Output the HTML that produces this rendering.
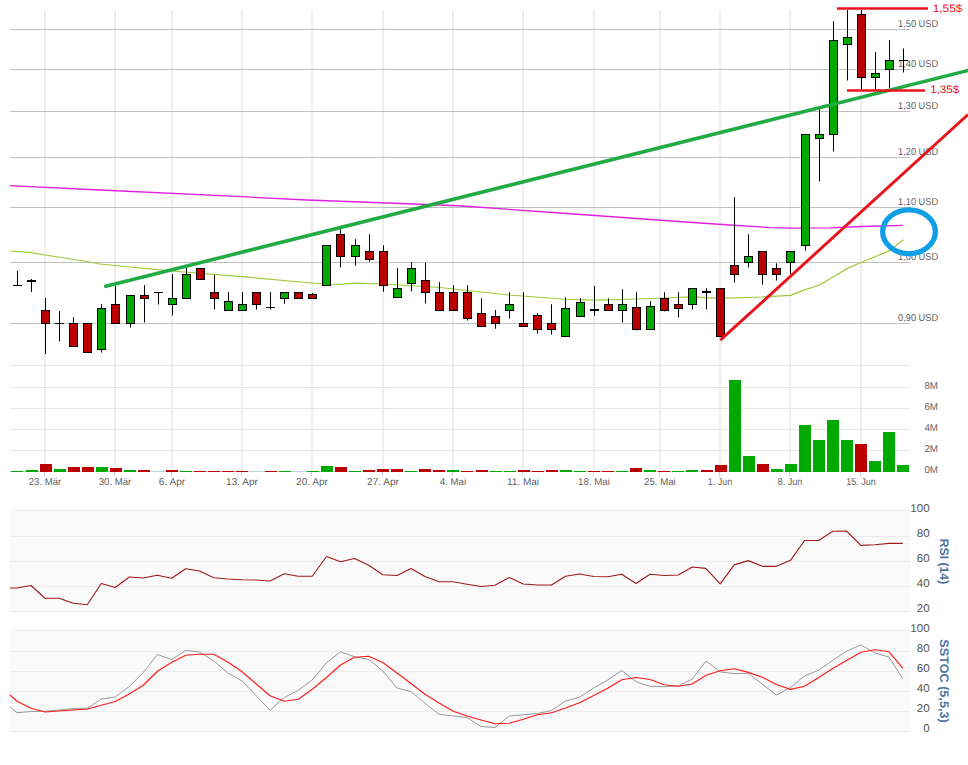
<!DOCTYPE html>
<html><head><meta charset="utf-8"><title>Chart</title>
<style>html,body{margin:0;padding:0;background:#fff;}body{width:968px;height:765px;position:relative;overflow:hidden;font-family:"Liberation Sans",sans-serif;}</style></head>
<body>
<svg width="968" height="765" viewBox="0 0 968 765" style="position:absolute;left:0;top:0;font-family:'Liberation Sans',sans-serif;text-rendering:geometricPrecision">
<rect width="968" height="765" fill="#fff"/>
<rect x="10" y="510" width="900" height="101.5" fill="#fafafa"/>
<rect x="10" y="630" width="900" height="101.5" fill="#fafafa"/>
<line x1="45.1" y1="10" x2="45.1" y2="471" stroke="#eeeeee" stroke-width="2"/>
<line x1="44.5" y1="472" x2="44.5" y2="476" stroke="#c0d0e0" stroke-width="1"/>
<line x1="115.1" y1="10" x2="115.1" y2="471" stroke="#eeeeee" stroke-width="2"/>
<line x1="114.5" y1="472" x2="114.5" y2="476" stroke="#c0d0e0" stroke-width="1"/>
<line x1="172.1" y1="10" x2="172.1" y2="471" stroke="#eeeeee" stroke-width="2"/>
<line x1="171.5" y1="472" x2="171.5" y2="476" stroke="#c0d0e0" stroke-width="1"/>
<line x1="242.1" y1="10" x2="242.1" y2="471" stroke="#eeeeee" stroke-width="2"/>
<line x1="241.5" y1="472" x2="241.5" y2="476" stroke="#c0d0e0" stroke-width="1"/>
<line x1="312.1" y1="10" x2="312.1" y2="471" stroke="#eeeeee" stroke-width="2"/>
<line x1="311.5" y1="472" x2="311.5" y2="476" stroke="#c0d0e0" stroke-width="1"/>
<line x1="383.1" y1="10" x2="383.1" y2="471" stroke="#eeeeee" stroke-width="2"/>
<line x1="382.5" y1="472" x2="382.5" y2="476" stroke="#c0d0e0" stroke-width="1"/>
<line x1="453.1" y1="10" x2="453.1" y2="471" stroke="#eeeeee" stroke-width="2"/>
<line x1="452.5" y1="472" x2="452.5" y2="476" stroke="#c0d0e0" stroke-width="1"/>
<line x1="523.1" y1="10" x2="523.1" y2="471" stroke="#eeeeee" stroke-width="2"/>
<line x1="522.5" y1="472" x2="522.5" y2="476" stroke="#c0d0e0" stroke-width="1"/>
<line x1="594.1" y1="10" x2="594.1" y2="471" stroke="#eeeeee" stroke-width="2"/>
<line x1="593.5" y1="472" x2="593.5" y2="476" stroke="#c0d0e0" stroke-width="1"/>
<line x1="660.0" y1="10" x2="660.0" y2="471" stroke="#eeeeee" stroke-width="2"/>
<line x1="659.4" y1="472" x2="659.4" y2="476" stroke="#c0d0e0" stroke-width="1"/>
<line x1="720.1" y1="10" x2="720.1" y2="471" stroke="#eeeeee" stroke-width="2"/>
<line x1="719.5" y1="472" x2="719.5" y2="476" stroke="#c0d0e0" stroke-width="1"/>
<line x1="790.1" y1="10" x2="790.1" y2="471" stroke="#eeeeee" stroke-width="2"/>
<line x1="789.5" y1="472" x2="789.5" y2="476" stroke="#c0d0e0" stroke-width="1"/>
<line x1="861.1" y1="10" x2="861.1" y2="471" stroke="#eeeeee" stroke-width="2"/>
<line x1="860.5" y1="472" x2="860.5" y2="476" stroke="#c0d0e0" stroke-width="1"/>
<line x1="10" y1="29.5" x2="910" y2="29.5" stroke="#c0c0c0" stroke-width="1"/>
<line x1="10" y1="69.5" x2="910" y2="69.5" stroke="#c0c0c0" stroke-width="1"/>
<line x1="10" y1="111.5" x2="910" y2="111.5" stroke="#c0c0c0" stroke-width="1"/>
<line x1="10" y1="157.5" x2="910" y2="157.5" stroke="#c0c0c0" stroke-width="1"/>
<line x1="10" y1="207.5" x2="910" y2="207.5" stroke="#c0c0c0" stroke-width="1"/>
<line x1="10" y1="262.5" x2="910" y2="262.5" stroke="#c0c0c0" stroke-width="1"/>
<line x1="10" y1="323.5" x2="910" y2="323.5" stroke="#c0c0c0" stroke-width="1"/>
<line x1="10" y1="365.5" x2="910" y2="365.5" stroke="#e6e6e6" stroke-width="1.2"/>
<line x1="10" y1="387.5" x2="910" y2="387.5" stroke="#e6e6e6" stroke-width="1.2"/>
<line x1="10" y1="408.5" x2="910" y2="408.5" stroke="#e6e6e6" stroke-width="1.2"/>
<line x1="10" y1="429.5" x2="910" y2="429.5" stroke="#e6e6e6" stroke-width="1.2"/>
<line x1="10" y1="450.5" x2="910" y2="450.5" stroke="#e6e6e6" stroke-width="1.2"/>
<line x1="10" y1="471.5" x2="910" y2="471.5" stroke="#c0d0e0" stroke-width="1"/>
<line x1="10" y1="510.5" x2="910" y2="510.5" stroke="#ececec" stroke-width="1"/>
<line x1="10" y1="536.5" x2="910" y2="536.5" stroke="#ececec" stroke-width="1"/>
<line x1="10" y1="561.5" x2="910" y2="561.5" stroke="#ececec" stroke-width="1"/>
<line x1="10" y1="586.5" x2="910" y2="586.5" stroke="#ececec" stroke-width="1"/>
<line x1="10" y1="611.5" x2="910" y2="611.5" stroke="#ececec" stroke-width="1"/>
<line x1="10" y1="630.5" x2="910" y2="630.5" stroke="#ececec" stroke-width="1"/>
<line x1="10" y1="651.5" x2="910" y2="651.5" stroke="#ececec" stroke-width="1"/>
<line x1="10" y1="671.5" x2="910" y2="671.5" stroke="#ececec" stroke-width="1"/>
<line x1="10" y1="691.5" x2="910" y2="691.5" stroke="#ececec" stroke-width="1"/>
<line x1="10" y1="711.5" x2="910" y2="711.5" stroke="#ececec" stroke-width="1"/>
<line x1="10" y1="731.5" x2="910" y2="731.5" stroke="#ececec" stroke-width="1"/>
<text x="898.1"  y="27.0" font-size="10" textLength="40" lengthAdjust="spacingAndGlyphs" fill="#606060">1,50 USD</text>
<text x="898.1"  y="67.0" font-size="10" textLength="40" lengthAdjust="spacingAndGlyphs" fill="#606060">1,40 USD</text>
<text x="898.1"  y="109.0" font-size="10" textLength="40" lengthAdjust="spacingAndGlyphs" fill="#606060">1,30 USD</text>
<text x="898.1"  y="155.0" font-size="10" textLength="40" lengthAdjust="spacingAndGlyphs" fill="#606060">1,20 USD</text>
<text x="898.1"  y="205.0" font-size="10" textLength="40" lengthAdjust="spacingAndGlyphs" fill="#606060">1,10 USD</text>
<text x="898.1"  y="260.0" font-size="10" textLength="40" lengthAdjust="spacingAndGlyphs" fill="#606060">1,00 USD</text>
<text x="898.1"  y="321.0" font-size="10" textLength="40" lengthAdjust="spacingAndGlyphs" fill="#606060">0,90 USD</text>
<text x="924.4" y="388.9" font-size="10" textLength="13.6" lengthAdjust="spacingAndGlyphs" fill="#606060">8M</text>
<text x="924.4" y="409.9" font-size="10" textLength="13.6" lengthAdjust="spacingAndGlyphs" fill="#606060">6M</text>
<text x="924.4" y="430.9" font-size="10" textLength="13.6" lengthAdjust="spacingAndGlyphs" fill="#606060">4M</text>
<text x="924.4" y="451.9" font-size="10" textLength="13.6" lengthAdjust="spacingAndGlyphs" fill="#606060">2M</text>
<text x="924.4" y="472.9" font-size="10" textLength="13.6" lengthAdjust="spacingAndGlyphs" fill="#606060">0M</text>
<text x="28.75" y="485" font-size="10" textLength="32.5" lengthAdjust="spacingAndGlyphs" fill="#606060">23. Mär</text>
<text x="98.75" y="485" font-size="10" textLength="32.5" lengthAdjust="spacingAndGlyphs" fill="#606060">30. Mär</text>
<text x="158.85" y="485" font-size="10" textLength="26.3" lengthAdjust="spacingAndGlyphs" fill="#606060">6. Apr</text>
<text x="226.05" y="485" font-size="10" textLength="31.9" lengthAdjust="spacingAndGlyphs" fill="#606060">13. Apr</text>
<text x="296.05" y="485" font-size="10" textLength="31.9" lengthAdjust="spacingAndGlyphs" fill="#606060">20. Apr</text>
<text x="367.05" y="485" font-size="10" textLength="31.9" lengthAdjust="spacingAndGlyphs" fill="#606060">27. Apr</text>
<text x="440" y="485" font-size="10" textLength="26" lengthAdjust="spacingAndGlyphs" fill="#606060">4. Mai</text>
<text x="507" y="485" font-size="10" textLength="32" lengthAdjust="spacingAndGlyphs" fill="#606060">11. Mai</text>
<text x="578.1" y="485" font-size="10" textLength="31.8" lengthAdjust="spacingAndGlyphs" fill="#606060">18. Mai</text>
<text x="644.1" y="485" font-size="10" textLength="31.6" lengthAdjust="spacingAndGlyphs" fill="#606060">25. Mai</text>
<text x="707.85" y="485" font-size="10" textLength="24.3" lengthAdjust="spacingAndGlyphs" fill="#606060">1. Jun</text>
<text x="777.85" y="485" font-size="10" textLength="24.3" lengthAdjust="spacingAndGlyphs" fill="#606060">8. Jun</text>
<text x="846.2" y="485" font-size="10" textLength="29.6" lengthAdjust="spacingAndGlyphs" fill="#606060">15. Jun</text>
<text x="910.3" y="511.8" font-size="11.3" textLength="19.4" lengthAdjust="spacingAndGlyphs" fill="#555">100</text>
<text x="916.8" y="537.3" font-size="11.3" textLength="12.9" lengthAdjust="spacingAndGlyphs" fill="#555">80</text>
<text x="916.8" y="562.3" font-size="11.3" textLength="12.9" lengthAdjust="spacingAndGlyphs" fill="#555">60</text>
<text x="916.8" y="587.3" font-size="11.3" textLength="12.9" lengthAdjust="spacingAndGlyphs" fill="#555">40</text>
<text x="916.8" y="612.3" font-size="11.3" textLength="12.9" lengthAdjust="spacingAndGlyphs" fill="#555">20</text>
<text x="910.3" y="632.1" font-size="11.3" textLength="19.4" lengthAdjust="spacingAndGlyphs" fill="#555">100</text>
<text x="916.8" y="652.3000000000001" font-size="11.3" textLength="12.9" lengthAdjust="spacingAndGlyphs" fill="#555">80</text>
<text x="916.8" y="672.3000000000001" font-size="11.3" textLength="12.9" lengthAdjust="spacingAndGlyphs" fill="#555">60</text>
<text x="916.8" y="692.3000000000001" font-size="11.3" textLength="12.9" lengthAdjust="spacingAndGlyphs" fill="#555">40</text>
<text x="916.8" y="712.3000000000001" font-size="11.3" textLength="12.9" lengthAdjust="spacingAndGlyphs" fill="#555">20</text>
<text x="923.3" y="732.3000000000001" font-size="11.3" textLength="6.4" lengthAdjust="spacingAndGlyphs" fill="#555">0</text>
<text transform="translate(940,561.5) rotate(90)" text-anchor="middle" font-size="12.3" font-weight="bold" textLength="45.4" lengthAdjust="spacingAndGlyphs" fill="#4d759e">RSI (14)</text>
<text transform="translate(940,681) rotate(90)" text-anchor="middle" font-size="12.3" font-weight="bold" textLength="83.3" lengthAdjust="spacingAndGlyphs" fill="#4d759e">SSTOC (5,5,3)</text>
<rect x="11" y="471" width="12" height="1" fill="#00aa00"/>
<rect x="26" y="470" width="12" height="2" fill="#00aa00"/>
<rect x="40" y="464" width="12" height="8" fill="#bb0000"/>
<rect x="54" y="469" width="12" height="3" fill="#00aa00"/>
<rect x="68" y="467" width="12" height="5" fill="#bb0000"/>
<rect x="82" y="467" width="12" height="5" fill="#bb0000"/>
<rect x="96" y="467" width="12" height="5" fill="#00aa00"/>
<rect x="110" y="468" width="12" height="4" fill="#bb0000"/>
<rect x="124" y="470" width="12" height="2" fill="#00aa00"/>
<rect x="138" y="470" width="12" height="2" fill="#bb0000"/>
<rect x="166" y="470" width="12" height="2" fill="#bb0000"/>
<rect x="180" y="471" width="12" height="1" fill="#00aa00"/>
<rect x="194" y="471" width="12" height="1" fill="#bb0000"/>
<rect x="208" y="471" width="12" height="1" fill="#bb0000"/>
<rect x="222" y="471" width="12" height="1" fill="#bb0000"/>
<rect x="236" y="471" width="12" height="1" fill="#bb0000"/>
<rect x="265" y="471" width="12" height="1" fill="#bb0000"/>
<rect x="279" y="471" width="12" height="1" fill="#00aa00"/>
<rect x="307" y="471" width="12" height="1" fill="#00aa00"/>
<rect x="321" y="466" width="12" height="6" fill="#00aa00"/>
<rect x="335" y="467" width="12" height="5" fill="#bb0000"/>
<rect x="349" y="471" width="12" height="1" fill="#00aa00"/>
<rect x="363" y="470" width="12" height="2" fill="#bb0000"/>
<rect x="377" y="469" width="12" height="3" fill="#bb0000"/>
<rect x="391" y="469" width="12" height="3" fill="#bb0000"/>
<rect x="405" y="471" width="12" height="1" fill="#00aa00"/>
<rect x="419" y="469" width="12" height="3" fill="#bb0000"/>
<rect x="433" y="470" width="12" height="2" fill="#bb0000"/>
<rect x="447" y="470" width="12" height="2" fill="#00aa00"/>
<rect x="461" y="471" width="12" height="1" fill="#bb0000"/>
<rect x="476" y="470" width="12" height="2" fill="#bb0000"/>
<rect x="490" y="471" width="12" height="1" fill="#00aa00"/>
<rect x="504" y="471" width="12" height="1" fill="#00aa00"/>
<rect x="518" y="470" width="12" height="2" fill="#bb0000"/>
<rect x="532" y="471" width="12" height="1" fill="#bb0000"/>
<rect x="546" y="470" width="12" height="2" fill="#bb0000"/>
<rect x="560" y="470" width="12" height="2" fill="#00aa00"/>
<rect x="574" y="471" width="12" height="1" fill="#00aa00"/>
<rect x="588" y="471" width="12" height="1" fill="#bb0000"/>
<rect x="602" y="471" width="12" height="1" fill="#bb0000"/>
<rect x="616" y="471" width="12" height="1" fill="#00aa00"/>
<rect x="630" y="468" width="12" height="4" fill="#bb0000"/>
<rect x="644" y="470" width="12" height="2" fill="#00aa00"/>
<rect x="658" y="471" width="12" height="1" fill="#bb0000"/>
<rect x="672" y="471" width="12" height="1" fill="#00aa00"/>
<rect x="686" y="470" width="12" height="2" fill="#00aa00"/>
<rect x="701" y="470" width="12" height="2" fill="#bb0000"/>
<rect x="715" y="465" width="12" height="7" fill="#bb0000"/>
<rect x="729" y="380" width="12" height="92" fill="#00aa00"/>
<rect x="743" y="456" width="12" height="16" fill="#00aa00"/>
<rect x="757" y="464" width="12" height="8" fill="#bb0000"/>
<rect x="771" y="469" width="12" height="3" fill="#00aa00"/>
<rect x="785" y="464" width="12" height="8" fill="#00aa00"/>
<rect x="799" y="425" width="12" height="47" fill="#00aa00"/>
<rect x="813" y="440" width="12" height="32" fill="#00aa00"/>
<rect x="827" y="420" width="12" height="52" fill="#00aa00"/>
<rect x="841" y="440" width="12" height="32" fill="#00aa00"/>
<rect x="855" y="444" width="12" height="28" fill="#bb0000"/>
<rect x="869" y="461" width="12" height="11" fill="#00aa00"/>
<rect x="883" y="432" width="12" height="40" fill="#00aa00"/>
<rect x="897" y="465" width="12" height="7" fill="#00aa00"/>
<polyline points="10,251 30,252.4 45,255 87,261.5 100,264 115,265.5 130,267 150,268.8 172,271 242,276.7 312,283 326,284 340,284.25 355,283.25 383,284 411,285.75 440,287.5 467,290.5 509,295 565,299.25 594,300 622,299.5 664,298 692,297 720,298.25 762,297 790.5,295.3 805.5,289.7 819.5,285 833.5,276.8 847.5,268.4 861.5,262.3 875.5,256.5 889.5,250.7 903.3,239.8" fill="none" stroke="#a0c838" stroke-width="1.25"/>
<polyline points="10,185.7 100,190 242,196.7 307,200 440,205 462,206 560,213 682,221.75 730,225 770,227.6 790,228.2 830,227.8 861,226.5 903.3,225.3" fill="none" stroke="#e01fe0" stroke-width="1.3"/>
<line x1="17.5" y1="271" x2="17.5" y2="285.5" stroke="#000" stroke-width="1"/>
<line x1="13.0" y1="285.5" x2="22.0" y2="285.5" stroke="#000" stroke-width="1"/>
<line x1="31.5" y1="279" x2="31.5" y2="292" stroke="#000" stroke-width="1"/>
<rect x="27.5" y="280.5" width="8" height="1.0" fill="#000" stroke="#000" stroke-width="1"/>
<line x1="45.5" y1="298" x2="45.5" y2="354" stroke="#000" stroke-width="1"/>
<rect x="41.5" y="310.5" width="8" height="13.0" fill="#bb0000" stroke="#000" stroke-width="1"/>
<line x1="59.5" y1="311" x2="59.5" y2="341.5" stroke="#000" stroke-width="1"/>
<line x1="55.0" y1="323.5" x2="64.0" y2="323.5" stroke="#000" stroke-width="1"/>
<line x1="73.5" y1="317" x2="73.5" y2="346.5" stroke="#000" stroke-width="1"/>
<rect x="69.5" y="323.5" width="8" height="23.0" fill="#bb0000" stroke="#000" stroke-width="1"/>
<line x1="87.5" y1="323.5" x2="87.5" y2="352.5" stroke="#000" stroke-width="1"/>
<rect x="83.5" y="323.5" width="8" height="29.0" fill="#bb0000" stroke="#000" stroke-width="1"/>
<line x1="101.5" y1="304" x2="101.5" y2="352.5" stroke="#000" stroke-width="1"/>
<rect x="97.5" y="308.5" width="8" height="41.0" fill="#00aa00" stroke="#000" stroke-width="1"/>
<line x1="115.5" y1="286" x2="115.5" y2="323.5" stroke="#000" stroke-width="1"/>
<rect x="111.5" y="304.5" width="8" height="19.0" fill="#bb0000" stroke="#000" stroke-width="1"/>
<line x1="130.5" y1="295.5" x2="130.5" y2="327.5" stroke="#000" stroke-width="1"/>
<rect x="126.5" y="295.5" width="8" height="28.0" fill="#00aa00" stroke="#000" stroke-width="1"/>
<line x1="144.5" y1="285" x2="144.5" y2="322.5" stroke="#000" stroke-width="1"/>
<rect x="140.5" y="295.5" width="8" height="3.0" fill="#bb0000" stroke="#000" stroke-width="1"/>
<line x1="158.5" y1="292.5" x2="158.5" y2="304.5" stroke="#000" stroke-width="1"/>
<line x1="154.0" y1="292.5" x2="163.0" y2="292.5" stroke="#000" stroke-width="1"/>
<line x1="172.5" y1="274" x2="172.5" y2="315.5" stroke="#000" stroke-width="1"/>
<rect x="168.5" y="298.5" width="8" height="6.0" fill="#00aa00" stroke="#000" stroke-width="1"/>
<line x1="186.5" y1="267.5" x2="186.5" y2="298.5" stroke="#000" stroke-width="1"/>
<rect x="182.5" y="274.5" width="8" height="24.0" fill="#00aa00" stroke="#000" stroke-width="1"/>
<line x1="200.5" y1="268.5" x2="200.5" y2="279.5" stroke="#000" stroke-width="1"/>
<rect x="196.5" y="268.5" width="8" height="11.0" fill="#bb0000" stroke="#000" stroke-width="1"/>
<line x1="214.5" y1="275" x2="214.5" y2="309.5" stroke="#000" stroke-width="1"/>
<rect x="210.5" y="292.5" width="8" height="6.0" fill="#bb0000" stroke="#000" stroke-width="1"/>
<line x1="228.5" y1="292" x2="228.5" y2="310.5" stroke="#000" stroke-width="1"/>
<rect x="224.5" y="301.5" width="8" height="9.0" fill="#00aa00" stroke="#000" stroke-width="1"/>
<line x1="242.5" y1="292" x2="242.5" y2="310.5" stroke="#000" stroke-width="1"/>
<rect x="238.5" y="304.5" width="8" height="6.0" fill="#00aa00" stroke="#000" stroke-width="1"/>
<line x1="256.5" y1="292.5" x2="256.5" y2="309.5" stroke="#000" stroke-width="1"/>
<rect x="252.5" y="292.5" width="8" height="12.0" fill="#bb0000" stroke="#000" stroke-width="1"/>
<line x1="270.5" y1="292" x2="270.5" y2="309.5" stroke="#000" stroke-width="1"/>
<line x1="266.0" y1="307.5" x2="275.0" y2="307.5" stroke="#000" stroke-width="1"/>
<line x1="284.5" y1="292.5" x2="284.5" y2="303.75" stroke="#000" stroke-width="1"/>
<rect x="280.5" y="292.5" width="8" height="6.0" fill="#00aa00" stroke="#000" stroke-width="1"/>
<line x1="298.5" y1="292.5" x2="298.5" y2="298.5" stroke="#000" stroke-width="1"/>
<rect x="294.5" y="292.5" width="8" height="6.0" fill="#bb0000" stroke="#000" stroke-width="1"/>
<line x1="312.5" y1="293" x2="312.5" y2="298.5" stroke="#000" stroke-width="1"/>
<rect x="308.5" y="294.5" width="8" height="4.0" fill="#bb0000" stroke="#000" stroke-width="1"/>
<line x1="326.5" y1="245.5" x2="326.5" y2="285.5" stroke="#000" stroke-width="1"/>
<rect x="322.5" y="245.5" width="8" height="40.0" fill="#00aa00" stroke="#000" stroke-width="1"/>
<line x1="340.5" y1="229.25" x2="340.5" y2="267.5" stroke="#000" stroke-width="1"/>
<rect x="336.5" y="234.5" width="8" height="22.0" fill="#bb0000" stroke="#000" stroke-width="1"/>
<line x1="355.5" y1="239.25" x2="355.5" y2="265.75" stroke="#000" stroke-width="1"/>
<rect x="351.5" y="245.5" width="8" height="11.0" fill="#00aa00" stroke="#000" stroke-width="1"/>
<line x1="369.5" y1="234.25" x2="369.5" y2="261.5" stroke="#000" stroke-width="1"/>
<rect x="365.5" y="251.5" width="8" height="8.0" fill="#bb0000" stroke="#000" stroke-width="1"/>
<line x1="383.5" y1="245.25" x2="383.5" y2="291.75" stroke="#000" stroke-width="1"/>
<rect x="379.5" y="251.5" width="8" height="34.0" fill="#bb0000" stroke="#000" stroke-width="1"/>
<line x1="397.5" y1="268" x2="397.5" y2="297.5" stroke="#000" stroke-width="1"/>
<rect x="393.5" y="288.5" width="8" height="9.0" fill="#00aa00" stroke="#000" stroke-width="1"/>
<line x1="411.5" y1="262" x2="411.5" y2="291.5" stroke="#000" stroke-width="1"/>
<rect x="407.5" y="268.5" width="8" height="15.0" fill="#00aa00" stroke="#000" stroke-width="1"/>
<line x1="425.5" y1="262.5" x2="425.5" y2="303.5" stroke="#000" stroke-width="1"/>
<rect x="421.5" y="280.5" width="8" height="12.0" fill="#bb0000" stroke="#000" stroke-width="1"/>
<line x1="439.5" y1="282" x2="439.5" y2="310.5" stroke="#000" stroke-width="1"/>
<rect x="435.5" y="292.5" width="8" height="18.0" fill="#bb0000" stroke="#000" stroke-width="1"/>
<line x1="453.5" y1="285.25" x2="453.5" y2="310.5" stroke="#000" stroke-width="1"/>
<rect x="449.5" y="292.5" width="8" height="18.0" fill="#bb0000" stroke="#000" stroke-width="1"/>
<line x1="467.5" y1="285.25" x2="467.5" y2="320.5" stroke="#000" stroke-width="1"/>
<rect x="463.5" y="292.5" width="8" height="26.0" fill="#bb0000" stroke="#000" stroke-width="1"/>
<line x1="481.5" y1="298.25" x2="481.5" y2="326.5" stroke="#000" stroke-width="1"/>
<rect x="477.5" y="313.5" width="8" height="13.0" fill="#bb0000" stroke="#000" stroke-width="1"/>
<line x1="495.5" y1="310" x2="495.5" y2="328.75" stroke="#000" stroke-width="1"/>
<rect x="491.5" y="316.5" width="8" height="7.0" fill="#bb0000" stroke="#000" stroke-width="1"/>
<line x1="509.5" y1="292.25" x2="509.5" y2="318.5" stroke="#000" stroke-width="1"/>
<rect x="505.5" y="304.5" width="8" height="6.0" fill="#00aa00" stroke="#000" stroke-width="1"/>
<line x1="523.5" y1="292.25" x2="523.5" y2="326.5" stroke="#000" stroke-width="1"/>
<rect x="519.5" y="323.5" width="8" height="3.0" fill="#bb0000" stroke="#000" stroke-width="1"/>
<line x1="537.5" y1="313.25" x2="537.5" y2="333.5" stroke="#000" stroke-width="1"/>
<rect x="533.5" y="315.5" width="8" height="14.0" fill="#bb0000" stroke="#000" stroke-width="1"/>
<line x1="551.5" y1="304.25" x2="551.5" y2="334.5" stroke="#000" stroke-width="1"/>
<rect x="547.5" y="323.5" width="8" height="6.0" fill="#bb0000" stroke="#000" stroke-width="1"/>
<line x1="565.5" y1="297.25" x2="565.5" y2="336.5" stroke="#000" stroke-width="1"/>
<rect x="561.5" y="308.5" width="8" height="28.0" fill="#00aa00" stroke="#000" stroke-width="1"/>
<line x1="580.5" y1="298.25" x2="580.5" y2="316.5" stroke="#000" stroke-width="1"/>
<rect x="576.5" y="302.5" width="8" height="14.0" fill="#00aa00" stroke="#000" stroke-width="1"/>
<line x1="594.5" y1="286" x2="594.5" y2="315.75" stroke="#000" stroke-width="1"/>
<rect x="590.5" y="309.5" width="8" height="1.0" fill="#000" stroke="#000" stroke-width="1"/>
<line x1="608.5" y1="298.25" x2="608.5" y2="310.5" stroke="#000" stroke-width="1"/>
<rect x="604.5" y="304.5" width="8" height="6.0" fill="#bb0000" stroke="#000" stroke-width="1"/>
<line x1="622.5" y1="289.25" x2="622.5" y2="322.5" stroke="#000" stroke-width="1"/>
<rect x="618.5" y="304.5" width="8" height="6.0" fill="#00aa00" stroke="#000" stroke-width="1"/>
<line x1="636.5" y1="292.25" x2="636.5" y2="330.5" stroke="#000" stroke-width="1"/>
<rect x="632.5" y="307.5" width="8" height="22.0" fill="#bb0000" stroke="#000" stroke-width="1"/>
<line x1="650.5" y1="301.25" x2="650.5" y2="329.5" stroke="#000" stroke-width="1"/>
<rect x="646.5" y="306.5" width="8" height="23.0" fill="#00aa00" stroke="#000" stroke-width="1"/>
<line x1="664.5" y1="292.25" x2="664.5" y2="311.5" stroke="#000" stroke-width="1"/>
<rect x="660.5" y="298.5" width="8" height="12.0" fill="#bb0000" stroke="#000" stroke-width="1"/>
<line x1="678.5" y1="292.25" x2="678.5" y2="317.5" stroke="#000" stroke-width="1"/>
<rect x="674.5" y="304.5" width="8" height="4.0" fill="#bb0000" stroke="#000" stroke-width="1"/>
<line x1="692.5" y1="288.5" x2="692.5" y2="309.5" stroke="#000" stroke-width="1"/>
<rect x="688.5" y="288.5" width="8" height="16.0" fill="#00aa00" stroke="#000" stroke-width="1"/>
<line x1="706.5" y1="288.25" x2="706.5" y2="309.5" stroke="#000" stroke-width="1"/>
<rect x="702.5" y="291.5" width="8" height="1.0" fill="#000" stroke="#000" stroke-width="1"/>
<line x1="720.5" y1="288.5" x2="720.5" y2="336.5" stroke="#000" stroke-width="1"/>
<rect x="716.5" y="288.5" width="8" height="48.0" fill="#bb0000" stroke="#000" stroke-width="1"/>
<line x1="734.5" y1="197.25" x2="734.5" y2="282.5" stroke="#000" stroke-width="1"/>
<rect x="730.5" y="265.5" width="8" height="9.0" fill="#bb0000" stroke="#000" stroke-width="1"/>
<line x1="748.5" y1="234.25" x2="748.5" y2="267.5" stroke="#000" stroke-width="1"/>
<rect x="744.5" y="256.5" width="8" height="6.0" fill="#00aa00" stroke="#000" stroke-width="1"/>
<line x1="762.5" y1="251.5" x2="762.5" y2="284.5" stroke="#000" stroke-width="1"/>
<rect x="758.5" y="251.5" width="8" height="23.0" fill="#bb0000" stroke="#000" stroke-width="1"/>
<line x1="776.5" y1="263.25" x2="776.5" y2="280.5" stroke="#000" stroke-width="1"/>
<rect x="772.5" y="268.5" width="8" height="6.0" fill="#bb0000" stroke="#000" stroke-width="1"/>
<line x1="790.5" y1="251.5" x2="790.5" y2="274" stroke="#000" stroke-width="1"/>
<rect x="786.5" y="251.5" width="8" height="11.0" fill="#00aa00" stroke="#000" stroke-width="1"/>
<line x1="805.5" y1="134.5" x2="805.5" y2="250.5" stroke="#000" stroke-width="1"/>
<rect x="801.5" y="134.5" width="8" height="111.0" fill="#00aa00" stroke="#000" stroke-width="1"/>
<line x1="819.5" y1="108.5" x2="819.5" y2="181.5" stroke="#000" stroke-width="1"/>
<rect x="815.5" y="134.5" width="8" height="4.0" fill="#00aa00" stroke="#000" stroke-width="1"/>
<line x1="833.5" y1="21" x2="833.5" y2="151.5" stroke="#000" stroke-width="1"/>
<rect x="829.5" y="40.5" width="8" height="94.0" fill="#00aa00" stroke="#000" stroke-width="1"/>
<line x1="847.5" y1="10" x2="847.5" y2="80.5" stroke="#000" stroke-width="1"/>
<rect x="843.5" y="37.5" width="8" height="7.0" fill="#00aa00" stroke="#000" stroke-width="1"/>
<line x1="861.5" y1="10" x2="861.5" y2="90" stroke="#000" stroke-width="1"/>
<rect x="857.5" y="14.5" width="8" height="63.0" fill="#bb0000" stroke="#000" stroke-width="1"/>
<line x1="875.5" y1="52" x2="875.5" y2="90" stroke="#000" stroke-width="1"/>
<rect x="871.5" y="73.5" width="8" height="4.0" fill="#00aa00" stroke="#000" stroke-width="1"/>
<line x1="889.5" y1="40" x2="889.5" y2="88" stroke="#000" stroke-width="1"/>
<rect x="885.5" y="60.5" width="8" height="9.0" fill="#00aa00" stroke="#000" stroke-width="1"/>
<line x1="903.5" y1="48.5" x2="903.5" y2="72.5" stroke="#000" stroke-width="1"/>
<line x1="899.0" y1="60.5" x2="908.0" y2="60.5" stroke="#000" stroke-width="1"/>
<line x1="105.8" y1="286.3" x2="972" y2="69.5" stroke="#22aa44" stroke-width="3.6" stroke-linecap="round"/>
<line x1="720.3" y1="340.2" x2="968" y2="114.5" stroke="#e8141c" stroke-width="2.95"/>
<line x1="837" y1="8.5" x2="928" y2="8.5" stroke="#e8141c" stroke-width="2.6"/>
<line x1="847" y1="90.5" x2="925" y2="90.5" stroke="#e8141c" stroke-width="2.6"/>
<text x="932.7" y="12" font-size="10.8" textLength="29.8" lengthAdjust="spacingAndGlyphs" fill="#e8141c">1,55$</text>
<text x="930.2" y="92.7" font-size="10.8" textLength="29" lengthAdjust="spacingAndGlyphs" fill="#e8141c">1,35$</text>
<ellipse cx="909" cy="231.7" rx="26.35" ry="21.9" fill="none" stroke="#0f9fe6" stroke-width="5.3"/>
<polyline points="10,588 17,588 31,585.5 45,598.25 59.25,598.25 73.25,603.25 87.25,604.75 101.25,583.5 115.25,587.5 129.25,577 143.25,578 157.25,575.25 171.5,578.25 185.75,568.75 199.5,571 213.75,577.75 227.75,579 242,579.75 256,580 270,581 284.25,573.75 298.25,576.25 312.25,576.25 326.5,556.5 340.5,561.75 354.5,558.5 368.75,565.25 382.75,574.75 397,575.5 411,568.5 425,576.5 439,581.75 453.25,581.75 467,584.25 481,586.5 495,585.25 509.25,577.5 523.25,584 537.5,585 551.5,585 565.5,576.25 579.5,574 593.75,576.5 607.75,576.75 621.75,574.25 636,583.5 650,574.25 664,575.5 678.25,575 692.25,567 705.8,568.4 720.2,583.9 734.2,564.9 748.3,560.6 762.4,566.3 776.4,566.3 790.5,560.3 804.6,540.5 818.7,540.5 832.7,531.3 846.5,531 860.9,545.4 875,544.8 889,543.4 902.8,543.4" fill="none" stroke="#a01a1a" stroke-width="1.15" stroke-linejoin="round"/>
<polyline points="10,706.75 17,712.75 31,711.5 45,711.25 59.25,710 73.25,708.5 87.25,708.25 101.25,699 115.25,697 129.25,686.5 143.25,672.5 157.5,654.5 171.5,659.5 185.75,650.5 199.5,652 213.75,660.75 227.75,673 242,680.75 256,695.5 270,710.25 284.25,697.5 298.25,690.25 312.25,680 326.5,662.75 340.5,651.75 354.5,656.75 368.75,659.5 382.75,671 397,688 411,691.5 425,703.25 439,714.25 453.25,716 467,717.5 481,726.5 495,727.5 509.25,716 523.25,714.75 537.5,713.5 551.5,710.5 565.5,701 579.5,697.25 593.75,688 607.75,680 621.75,670.5 636,681.75 650,686.25 664,686.75 678.25,686 692.25,679 706.1,661 720.2,671.9 734.2,673.6 748.3,673.3 762.4,684.2 776.4,695.1 790.5,687.4 804.6,675.9 818.7,670.1 832.7,660.4 846.5,651.2 860.9,644.9 875,652.9 889,657.2 902.8,678.8" fill="none" stroke="#999999" stroke-width="1.0" stroke-linejoin="round"/>
<polyline points="10,695 17,701.25 31,708.25 45,712 59.25,711 73.25,710 87.25,709 101.25,705.25 115.25,701.5 129.25,694 143.25,685.25 157.5,671.25 171.5,662.5 185.75,655.25 199.5,654.25 213.75,654.25 227.75,662 242,671.75 256,683.75 270,695.75 284.25,701.25 298.25,699.25 312.25,689.25 326.5,677.5 340.5,665 354.5,657.25 368.75,656.25 382.75,662.5 397,673 411,683.5 425,694.25 439,703 453.25,711.25 467,716 481,720 495,723.75 509.25,723.25 523.25,719.25 537.5,714.75 551.5,712.75 565.5,708 579.5,702.75 593.75,695.5 607.75,688.25 621.75,679.75 636,677.5 650,679.5 664,684.75 678.25,686.25 692.25,684 706.1,675.3 720.2,670.7 734.2,668.7 748.3,672.4 762.4,677.3 776.4,684.5 790.5,689.4 804.6,686.2 818.7,677.6 832.7,668.4 846.5,660.4 860.9,652.3 875,649.8 889,651.8 902.8,668.1" fill="none" stroke="#ff1a1a" stroke-width="1.15" stroke-linejoin="round"/>
</svg>
</body></html>
